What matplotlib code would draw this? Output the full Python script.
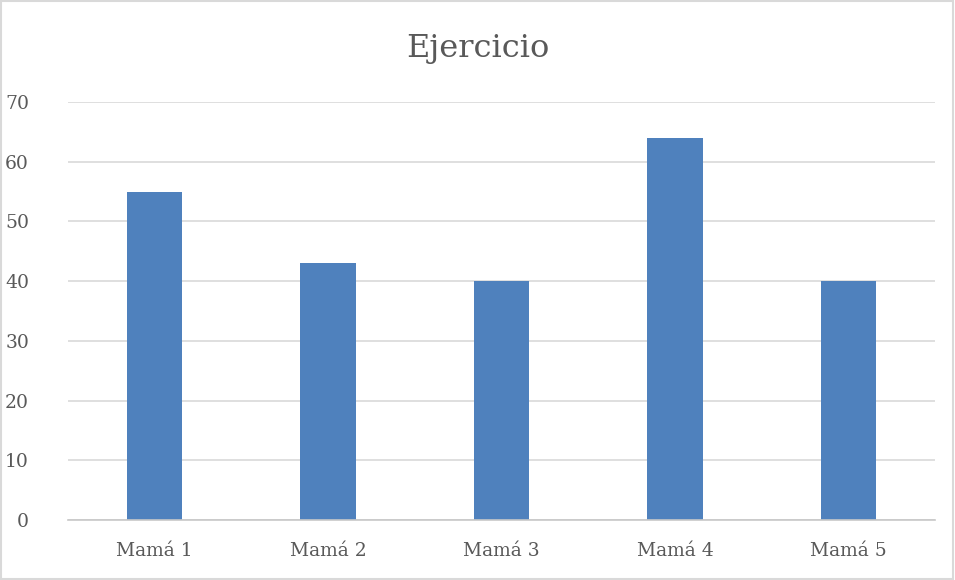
import matplotlib
matplotlib.use('Agg')
import matplotlib.pyplot as plt
from matplotlib.patches import Rectangle

# data
categories = ['Mamá 1', 'Mamá 2', 'Mamá 3', 'Mamá 4', 'Mamá 5']
values = [55, 43, 40, 64, 40]
yticks = [0, 10, 20, 30, 40, 50, 60, 70]

plt.rcParams['font.family'] = ['DejaVu Serif']

fig = plt.figure(figsize=(9.55, 5.8), dpi=100)
ax = fig.add_axes([68/955, 1 - 520/580, (935 - 68)/955, (520 - 102)/580])

x = range(len(categories))
ax.bar(x, values, width=0.32, color='#4f81bd', zorder=3)

ax.set_xlim(-0.5, len(categories) - 0.5)
ax.set_ylim(0, 70)
ax.set_yticks(yticks)
ax.set_xticks(list(x))
ax.set_xticklabels(categories)

ax.grid(axis='y', color='#d9d9d9', linewidth=1.2, zorder=0)
for side in ['top', 'right', 'left']:
    ax.spines[side].set_visible(False)
ax.spines['bottom'].set_color('#c8c8c8')
ax.spines['bottom'].set_linewidth(1.2)
ax.spines['bottom'].set_zorder(4)

ax.tick_params(axis='both', length=0, labelcolor='#595959', labelsize=13.5)
ax.tick_params(axis='y', pad=28)
ax.tick_params(axis='x', pad=16)

fig.text(0.5, 1 - 49/580, 'Ejercicio', ha='center', va='center',
         fontsize=23, color='#595959')

# light outer border of the chart
fig.patches.append(Rectangle((0.001, 0.002), 0.997, 0.996, transform=fig.transFigure,
                             fill=False, edgecolor='#d9d9d9', linewidth=1.5))

plt.savefig('out.png', dpi=100)
